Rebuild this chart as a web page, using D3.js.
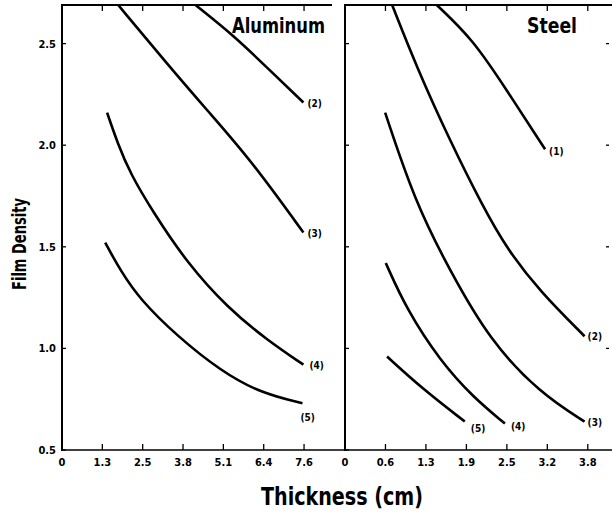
<!DOCTYPE html>
<html>
<head>
<meta charset="utf-8">
<script src="https://cdn.jsdelivr.net/npm/d3@7"></script>
<style>
  body { margin: 0; background: #fff; }
  text { font-family: "DejaVu Sans Condensed", "DejaVu Sans", sans-serif; font-weight: bold; fill: #000; }
</style>
</head>
<body>
<svg id="chart" width="612" height="513"></svg>
<script>
"use strict";

// tick positions (cm) and their printed labels
var aluTicks = [0, 1.27, 2.54, 3.81, 5.08, 6.35, 7.62];
var aluTickLabels = ["0", "1.3", "2.5", "3.8", "5.1", "6.4", "7.6"];
var steelTicks = [0, 0.635, 1.27, 1.905, 2.54, 3.175, 3.81];
var steelTickLabels = ["0", "0.6", "1.3", "1.9", "2.5", "3.2", "3.8"];
var densityTicks = [0.5, 1.0, 1.5, 2.0, 2.5];
var densityTickLabels = ["0.5", "1.0", "1.5", "2.0", "2.5"];

// aluminum curves [thickness cm, film density]
var alu2 = [[4.20, 2.69], [5.40, 2.54], [6.47, 2.38], [7.60, 2.21]];
var alu3 = [[1.77, 2.69], [3.31, 2.40], [4.58, 2.17], [5.93, 1.93], [7.60, 1.57]];
var alu4 = [[1.42, 2.16], [1.75, 2.01], [2.15, 1.86], [2.87, 1.67], [3.94, 1.42], [5.21, 1.20], [6.47, 1.04], [7.60, 0.92]];
var alu5 = [[1.36, 1.52], [1.85, 1.38], [2.46, 1.24], [3.63, 1.06], [4.99, 0.89], [6.25, 0.78], [7.57, 0.73]];
var aluCurves = [alu2, alu3, alu4, alu5];
var aluLabels = ["(2)", "(3)", "(4)", "(5)"];

// steel curves
var steel1 = [[1.44, 2.69], [2.01, 2.52], [2.54, 2.27], [3.14, 1.98]];
var steel2 = [[0.74, 2.69], [1.13, 2.38], [1.65, 2.02], [2.16, 1.70], [2.54, 1.49], [3.06, 1.28], [3.76, 1.06]];
var steel3 = [[0.63, 2.16], [1.10, 1.72], [1.65, 1.38], [2.27, 1.04], [3.06, 0.78], [3.76, 0.64]];
var steel4 = [[0.64, 1.42], [0.97, 1.19], [1.49, 0.94], [2.01, 0.76], [2.51, 0.63]];
var steel5 = [[0.66, 0.96], [1.22, 0.80], [1.88, 0.64]];
var steelCurves = [steel1, steel2, steel3, steel4, steel5];
var steelLabels = ["(1)", "(2)", "(3)", "(4)", "(5)"];

var svg = d3.select("#chart");

var y = d3.scaleLinear().domain([0.5, 2.69]).range([450, 5]);

function drawPanel(opts) {
  var x = d3.scaleLinear().domain(opts.domain).range(opts.range);
  var g = svg.append("g");
  var x0 = opts.range[0], x1 = opts.range[1];

  g.append("defs").append("clipPath").attr("id", opts.id)
    .append("rect").attr("x", x0).attr("y", y.range()[1])
    .attr("width", x1 - x0).attr("height", y.range()[0] - y.range()[1]);

  // frame: left, top, bottom
  g.append("line").attr("x1", x0).attr("x2", x0).attr("y1", 4).attr("y2", 451)
    .attr("stroke", "#000").attr("stroke-width", 2);
  g.append("line").attr("x1", x0).attr("x2", x1).attr("y1", 5).attr("y2", 5)
    .attr("stroke", "#000").attr("stroke-width", 2);
  g.append("line").attr("x1", x0 - opts.bottomExtra).attr("x2", x1).attr("y1", 450).attr("y2", 450)
    .attr("stroke", "#000").attr("stroke-width", 1.5);

  // x ticks (bottom up, top down)
  opts.ticks.forEach(function(t, i) {
    if (i == 0) return;
    g.append("line").attr("x1", x(t)).attr("x2", x(t)).attr("y1", 450).attr("y2", 444)
      .attr("stroke", "#000").attr("stroke-width", 1.3);
    g.append("line").attr("x1", x(t)).attr("x2", x(t)).attr("y1", 5).attr("y2", 11)
      .attr("stroke", "#000").attr("stroke-width", 1.3);
  });
  g.selectAll("text.xl").data(opts.ticks).enter().append("text")
    .attr("class", "xl")
    .attr("x", function(d) { return x(d); })
    .attr("y", 466)
    .attr("text-anchor", "middle")
    .attr("font-size", 11)
    .text(function(d, i) { return opts.tickLabels[i]; });

  // y ticks (inward)
  densityTicks.forEach(function(t) {
    g.append("line").attr("x1", x0).attr("x2", x0 + 4).attr("y1", y(t)).attr("y2", y(t))
      .attr("stroke", "#000").attr("stroke-width", 1.3);
    if (opts.rightTicks && t > 0.5) {
      g.append("line").attr("x1", x1 - 6).attr("x2", x1 - 3).attr("y1", y(t)).attr("y2", y(t))
        .attr("stroke", "#000").attr("stroke-width", 1.3);
    }
  });

  var line = d3.line()
    .x(function(d) { return x(d[0]); })
    .y(function(d) { return y(d[1]); })
    .curve(d3.curveBasis);

  g.selectAll("path.curve").data(opts.curves).enter().append("path")
    .attr("class", "curve")
    .attr("d", line)
    .attr("fill", "none")
    .attr("stroke", "#000")
    .attr("stroke-width", 2.6)
    .attr("clip-path", "url(#" + opts.id + ")");

  g.selectAll("text.cl").data(opts.curves).enter().append("text")
    .attr("class", "cl")
    .attr("x", function(d, i) { return x(d[d.length - 1][0]) + opts.labelOffsets[i][0]; })
    .attr("y", function(d, i) { return y(d[d.length - 1][1]) + opts.labelOffsets[i][1]; })
    .attr("font-size", 10)
    .text(function(d, i) { return opts.labels[i]; });

  g.append("text")
    .attr("x", opts.titleX)
    .attr("y", 33)
    .attr("font-size", 22)
    .attr("textLength", opts.titleW)
    .attr("lengthAdjust", "spacingAndGlyphs")
    .text(opts.title);
}

drawPanel({
  id: "clipAlu",
  domain: [0, 8.5],
  range: [62, 332],
  bottomExtra: 0,
  ticks: aluTicks,
  tickLabels: aluTickLabels,
  curves: aluCurves,
  labels: aluLabels,
  labelOffsets: [[4, 4], [4, 4], [6, 4], [-2, 18]],
  title: "Aluminum",
  titleX: 232,
  titleW: 93,
  rightTicks: false
});

drawPanel({
  id: "clipSteel",
  domain: [0, 4.19],
  range: [345, 612],
  bottomExtra: 13,
  ticks: steelTicks,
  tickLabels: steelTickLabels,
  curves: steelCurves,
  labels: steelLabels,
  labelOffsets: [[4, 6], [3, 4], [3, 4], [6, 6], [6, 10]],
  title: "Steel",
  titleX: 527,
  titleW: 50,
  rightTicks: true
});

svg.append("text")
  .attr("x", 342)
  .attr("y", 505)
  .attr("text-anchor", "middle")
  .attr("font-size", 24)
  .attr("textLength", 162)
  .attr("lengthAdjust", "spacingAndGlyphs")
  .text("Thickness (cm)");

svg.append("text")
  .attr("transform", "translate(26,244) rotate(-90)")
  .attr("text-anchor", "middle")
  .attr("font-size", 19)
  .attr("textLength", 92)
  .attr("lengthAdjust", "spacingAndGlyphs")
  .text("Film Density");

svg.selectAll("text.yl").data(densityTicks).enter().append("text")
  .attr("class", "yl")
  .attr("x", 56)
  .attr("y", function(d) { return y(d) + 4; })
  .attr("text-anchor", "end")
  .attr("font-size", 11)
  .text(function(d, i) { return densityTickLabels[i]; });
</script>
</body>
</html>
